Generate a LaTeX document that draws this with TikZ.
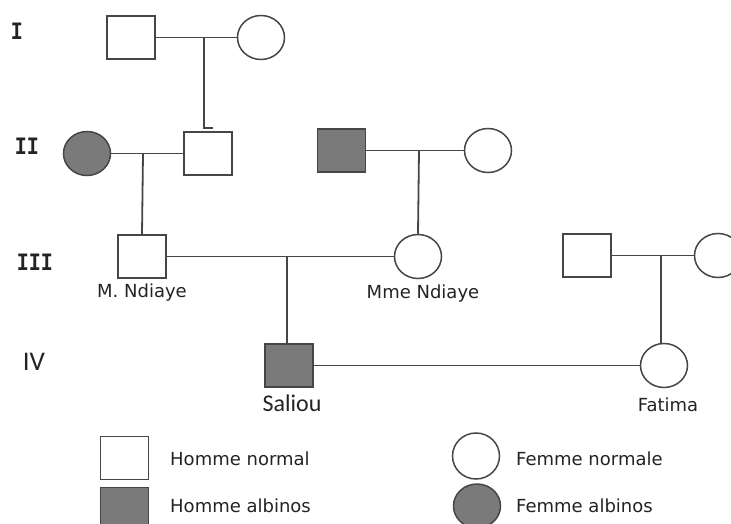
\documentclass[tikz,border=0pt]{standalone}
\usepackage{fontspec}
\setmainfont{DejaVu Sans}
\newfontfamily\genfont{Liberation Mono}
\newfontfamily\calfont{Carlito}
\usetikzlibrary{shapes.geometric}
\definecolor{lineclr}{RGB}{70,70,70}
\definecolor{affected}{RGB}{122,122,122}
\definecolor{txtclr}{RGB}{35,35,35}
\tikzset{
  male/.style={draw=lineclr, line width=1.5pt, fill=white, rectangle,
    minimum width=48pt, minimum height=43pt, inner sep=0pt},
  female/.style={draw=lineclr, line width=1.5pt, fill=white, ellipse,
    minimum width=47pt, minimum height=44pt, inner sep=0pt},
  ill/.style={fill=affected},
  link/.style={draw=lineclr, line width=1.8pt},
  personlbl/.style={text=txtclr, font=\fontsize{18}{20}\selectfont, inner sep=0pt},
  genlbl/.style={text=txtclr, font=\genfont\bfseries\fontsize{25}{27}\selectfont,
    inner sep=0pt, xscale=0.8},
  callbl/.style={text=txtclr, inner sep=0pt},
  legendtxt/.style={personlbl, anchor=west},
}
\begin{document}
\begin{tikzpicture}[x=1pt, y=-1pt]
\useasboundingbox (0,0) rectangle (731,524);
\clip (0,0) rectangle (731,524);

% generation labels
\node[genlbl] (gI)   at (17,31)  {I};
\node[genlbl] (gII)  at (27,146) {II};
\node[genlbl] (gIII) at (35,262) {III};
\node[callbl, font=\calfont\fontsize{27}{30}\selectfont] (gIV) at (34,362) {IV};

% generation I
\node[male]   (m1) at (131,37.5) {};
\node[female] (f1) at (261,37.5) {};
\coordinate (c1) at (204,37.5);
\draw[link] (m1.east) -- (f1.west);
\coordinate (t1) at (204,128);
\coordinate (t1b) at (213,128);
\draw[link] (c1) -- (t1) -- (t1b);

% generation II
\node[female, ill] (f2)  at (87,153.5)    {};
\node[male]        (m2)  at (208,153.5) {};
\node[male, ill]   (m2b) at (341.5,150.5) {};
\node[female]      (f2b) at (488,150.5) {};
\coordinate (c2) at (143,153.5);
\coordinate (c3) at (419,150.5);
\draw[link] (f2.east) -- (m2.west);
\draw[link] (m2b.east) -- (f2b.west);

% generation III
\node[male]   (m3)  at (142,256.5) {};
\node[female] (f3)  at (418,256.5) {};
\node[male]   (m3b) at (587,255.5) {};
\node[female] (f3b) at (718,255.5) {};
\coordinate (c4) at (287,256.5);
\coordinate (c5) at (661,255.5);
\draw[link] (c2) -- (m3.north);
\draw[link] (c3) -- (f3.north);
\draw[link] (m3.east) -- (f3.west);
\draw[link] (m3b.east) -- (f3b.west);
\node[personlbl] (n3)  at (142,293) {M. Ndiaye};
\node[personlbl] (n3b) at (423,294) {Mme Ndiaye};

% generation IV
\node[male, ill] (s4) at (289,365.5) {};
\node[female]    (f4) at (664,365.5) {};
\draw[link] (c4) -- (s4.north -| c4);
\draw[link] (c5) -- (f4.north -| c5);
\draw[link] (s4.east) -- (f4.west);
\node[callbl, font=\calfont\fontsize{24}{26}\selectfont] (n4) at (292,403) {Saliou};
\node[personlbl] (n4b) at (668,405) {Fatima};

% legend
\node[male]        (lm1) at (124.5,458) {};
\node[male, ill]   (lm2) at (124.5,509) {};
\node[female, minimum height=46pt] (lf1) at (476,456) {};
\node[female, ill] (lf2) at (477,506) {};
\node[legendtxt] (tm1) at (170,459) {Homme normal};
\node[legendtxt] (tm2) at (170,506) {Homme albinos};
\node[legendtxt] (tf1) at (516,459) {Femme normale};
\node[legendtxt] (tf2) at (516,506) {Femme albinos};
\end{tikzpicture}
\end{document}
